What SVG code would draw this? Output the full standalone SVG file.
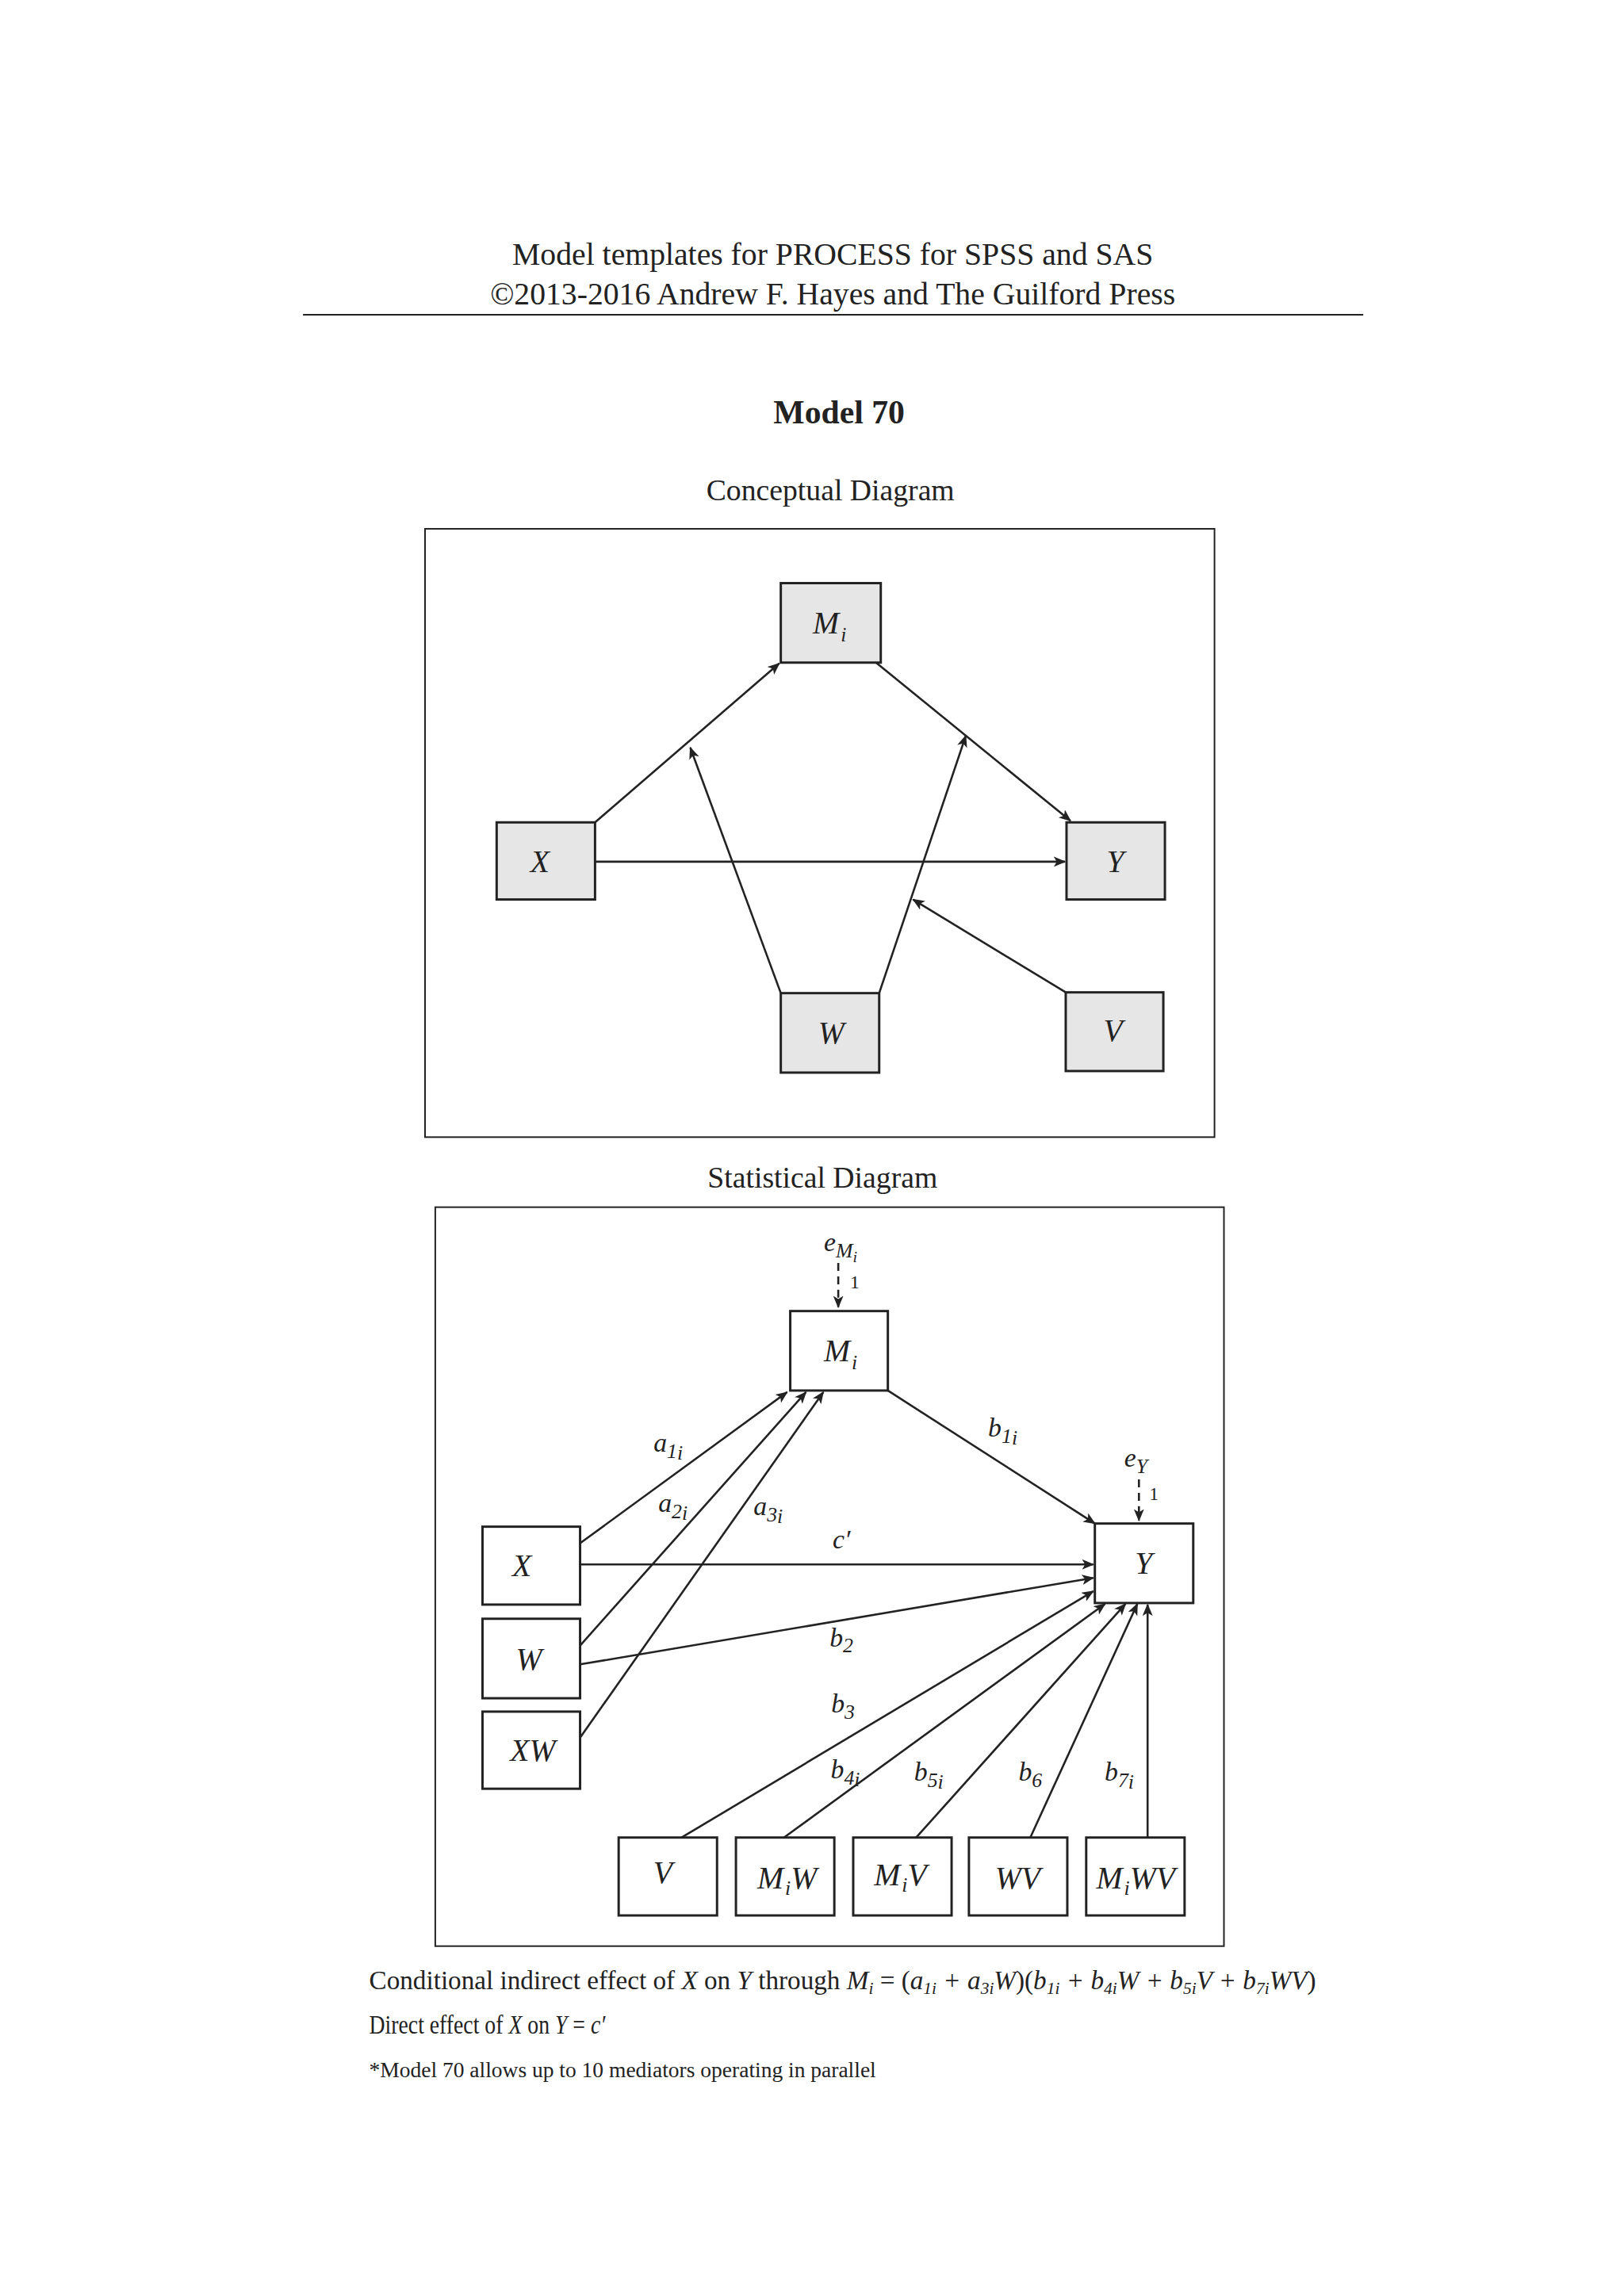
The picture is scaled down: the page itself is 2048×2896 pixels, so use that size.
<svg xmlns="http://www.w3.org/2000/svg" width="2048" height="2896" viewBox="0 0 2048 2896">
<style>
text{font-family:"Liberation Serif","Times New Roman",serif;fill:#222}
.n rect{stroke:#222;stroke-width:3}
.c rect{fill:#e6e6e6}
.s rect{fill:#fff}
.lab{font-style:italic;font-size:40px;text-anchor:middle}
.el{font-style:italic;font-size:34px;text-anchor:middle}
.sub{font-size:26px}
.con line{stroke:#222;stroke-width:2.6;marker-end:url(#ah)}
.con .d{stroke-dasharray:10,7}
.box{fill:none;stroke:#222;stroke-width:2}
</style>
<defs>
<marker id="ah" viewBox="0 0 12 10" refX="11" refY="5" markerWidth="6" markerHeight="5" orient="auto" markerUnits="strokeWidth"><path d="M0,0 L12,5 L0,10 L3,5 Z" fill="#222"/></marker>
</defs>
<rect width="2048" height="2896" fill="#fff"/>
<g transform="scale(0.9926)">
<text x="1058" y="336" font-size="40" text-anchor="middle">Model templates for PROCESS for SPSS and SAS</text>
<text x="1058" y="387" font-size="40" text-anchor="middle">©2013-2016 Andrew F. Hayes and The Guilford Press</text>
<line x1="385" y1="400" x2="1732" y2="400" stroke="#222" stroke-width="2"/>
<text x="1066" y="538" font-size="42" font-weight="bold" text-anchor="middle">Model 70</text>
<text x="1055" y="636" font-size="38" text-anchor="middle">Conceptual Diagram</text>
<text x="1045" y="1509" font-size="38" text-anchor="middle">Statistical Diagram</text>
<rect class="box" x="540" y="672" width="1003" height="773"/>
<rect class="box" x="553" y="1534" width="1002" height="939"/>

<g id="c-Mi" class="n c"><rect x="992" y="741" width="127" height="101"/><text class="lab" x="1054" y="805">M<tspan class="sub" dx="2" dy="10">i</tspan></text></g>
<g id="c-X" class="n c"><rect x="631" y="1045" width="125" height="98"/><text class="lab" x="686" y="1108">X</text></g>
<g id="c-Y" class="n c"><rect x="1355" y="1045" width="125" height="98"/><text class="lab" x="1417" y="1108">Y</text></g>
<g id="c-W" class="n c"><rect x="992" y="1262" width="125" height="101"/><text class="lab" x="1056" y="1326">W</text></g>
<g id="c-V" class="n c"><rect x="1354" y="1261" width="124" height="100"/><text class="lab" x="1414" y="1323">V</text></g>

<g id="s-Mi" class="n s"><rect x="1004" y="1666" width="124" height="101"/><text class="lab" x="1068" y="1730">M<tspan class="sub" dx="2" dy="10">i</tspan></text></g>
<g id="s-Y" class="n s"><rect x="1391" y="1936" width="125" height="101"/><text class="lab" x="1453" y="2000">Y</text></g>
<g id="s-X" class="n s"><rect x="613" y="1940" width="124" height="99"/><text class="lab" x="663" y="2003">X</text></g>
<g id="s-W" class="n s"><rect x="613" y="2057" width="124" height="101"/><text class="lab" x="672" y="2122">W</text></g>
<g id="s-XW" class="n s"><rect x="613" y="2175" width="124" height="98"/><text class="lab" x="677" y="2238">XW</text></g>
<g id="s-V" class="n s"><rect x="786" y="2335" width="125" height="99"/><text class="lab" x="842" y="2393">V</text></g>
<g id="s-MiW" class="n s"><rect x="935" y="2335" width="125" height="99"/><text class="lab" x="1000" y="2400">M<tspan class="sub" dx="2" dy="8">i</tspan><tspan dy="-8">W</tspan></text></g>
<g id="s-MiV" class="n s"><rect x="1084" y="2335" width="125" height="99"/><text class="lab" x="1144" y="2396">M<tspan class="sub" dx="2" dy="8">i</tspan><tspan dy="-8">V</tspan></text></g>
<g id="s-WV" class="n s"><rect x="1231" y="2335" width="125" height="99"/><text class="lab" x="1293" y="2400">WV</text></g>
<g id="s-MiWV" class="n s"><rect x="1380" y="2335" width="125" height="99"/><text class="lab" x="1443" y="2400">M<tspan class="sub" dx="2" dy="8">i</tspan><tspan dy="-8">WV</tspan></text></g>

<g id="connectors" class="con">
<line x1="756" y1="1045" x2="990" y2="843"/>
<line x1="1113" y1="842" x2="1360" y2="1043"/>
<line x1="756" y1="1095" x2="1353" y2="1095"/>
<line x1="992" y1="1262" x2="877" y2="950"/>
<line x1="1117" y1="1262" x2="1227" y2="935"/>
<line x1="1354" y1="1261" x2="1160" y2="1143"/>

<line class="d" x1="1065" y1="1605" x2="1065" y2="1661"/>
<line class="d" x1="1447" y1="1880" x2="1447" y2="1932"/>
<line x1="737" y1="1961" x2="1000" y2="1769"/>
<line x1="737" y1="2091" x2="1024" y2="1769"/>
<line x1="737" y1="2208" x2="1046" y2="1769"/>
<line x1="1128" y1="1767" x2="1391" y2="1936"/>
<line x1="737" y1="1988" x2="1389" y2="1988"/>
<line x1="737" y1="2115" x2="1389" y2="2005"/>
<line x1="866" y1="2335" x2="1389" y2="2022"/>
<line x1="996" y1="2335" x2="1404" y2="2038"/>
<line x1="1164" y1="2335" x2="1430" y2="2038"/>
<line x1="1309" y1="2335" x2="1445" y2="2038"/>
<line x1="1458" y1="2335" x2="1458" y2="2039"/>
</g>

<g id="labels">
<text class="el" x="1068" y="1590">e<tspan class="sub" dy="8">M</tspan><tspan font-size="20" dy="6">i</tspan></text>
<text x="1080" y="1637" font-size="24">1</text>
<text class="el" x="1443" y="1864">e<tspan class="sub" dy="8">Y</tspan></text>
<text x="1460" y="1906" font-size="24">1</text>
<text class="el" x="849" y="1845">a<tspan class="sub" dy="8">1</tspan><tspan class="sub" dy="2">i</tspan></text>
<text class="el" x="855" y="1921">a<tspan class="sub" dy="8">2</tspan><tspan class="sub" dy="2">i</tspan></text>
<text class="el" x="976" y="1925">a<tspan class="sub" dy="8">3</tspan><tspan class="sub" dy="2">i</tspan></text>
<text class="el" x="1274" y="1826">b<tspan class="sub" dy="8">1</tspan><tspan class="sub" dy="2">i</tspan></text>
<text class="el" x="1069" y="1968">c′</text>
<text class="el" x="1069" y="2092">b<tspan class="sub" dy="8">2</tspan></text>
<text class="el" x="1071" y="2176">b<tspan class="sub" dy="8">3</tspan></text>
<text class="el" x="1074" y="2260">b<tspan class="sub" dy="8">4</tspan><tspan class="sub" dy="2">i</tspan></text>
<text class="el" x="1180" y="2263">b<tspan class="sub" dy="8">5</tspan><tspan class="sub" dy="2">i</tspan></text>
<text class="el" x="1309" y="2263">b<tspan class="sub" dy="8">6</tspan></text>
<text class="el" x="1422" y="2263">b<tspan class="sub" dy="8">7</tspan><tspan class="sub" dy="2">i</tspan></text>
</g>

<text x="469" y="2528" font-size="34" textLength="1203" lengthAdjust="spacingAndGlyphs">Conditional indirect effect of <tspan font-style="italic">X</tspan> on <tspan font-style="italic">Y</tspan> through <tspan font-style="italic">M<tspan font-size="22" dy="6">i</tspan></tspan><tspan dy="-6"> = (</tspan><tspan font-style="italic">a<tspan font-size="22" dy="6">1i</tspan><tspan dy="-6"> + a</tspan><tspan font-size="22" dy="6">3i</tspan><tspan dy="-6">W</tspan></tspan>)(<tspan font-style="italic">b<tspan font-size="22" dy="6">1i</tspan><tspan dy="-6"> + b</tspan><tspan font-size="22" dy="6">4i</tspan><tspan dy="-6">W + b</tspan><tspan font-size="22" dy="6">5i</tspan><tspan dy="-6">V + b</tspan><tspan font-size="22" dy="6">7i</tspan><tspan dy="-6">WV</tspan></tspan>)</text>
<text x="469" y="2584" font-size="34" textLength="300" lengthAdjust="spacingAndGlyphs">Direct effect of <tspan font-style="italic">X</tspan> on <tspan font-style="italic">Y</tspan> = <tspan font-style="italic">c′</tspan></text>
<text x="469" y="2640" font-size="28" textLength="644" lengthAdjust="spacingAndGlyphs">*Model 70 allows up to 10 mediators operating in parallel</text>
</g>
</svg>
